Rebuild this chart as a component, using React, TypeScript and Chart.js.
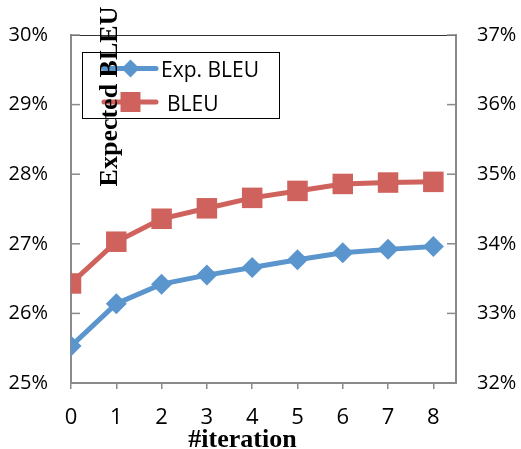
import React, { useEffect, useRef } from "react";
import { Chart, registerables } from "chart.js";

Chart.register(...registerables);

const iterations = [0, 1, 2, 3, 4, 5, 6, 7, 8];
const expBleu = [25.53, 26.14, 26.42, 26.55, 26.66, 26.77, 26.87, 26.92, 26.96];
const bleu = [33.43, 34.03, 34.36, 34.51, 34.66, 34.76, 34.86, 34.88, 34.89];
const leftTicks = [25, 26, 27, 28, 29, 30];
const rightTicks = [32, 33, 34, 35, 36, 37];
const seriesNames = ["Exp. BLEU", "BLEU"];
const xTitle = "#iteration";
const yTitle = "Expected BLEU";

const BLUE = "#5B95CD";
const RED = "#CF625C";
const AXIS = "#8a8a8a";

const decorPlugin = {
  id: "decor",
  afterDraw(chart: any) {
    const { ctx, chartArea: a, scales } = chart;
    ctx.save();
    // top border
    ctx.strokeStyle = "#333";
    ctx.lineWidth = 1;
    ctx.beginPath();
    ctx.moveTo(a.left, a.top + 0.5);
    ctx.lineTo(a.right, a.top + 0.5);
    ctx.stroke();
    // inward tick marks
    ctx.strokeStyle = AXIS;
    ctx.lineWidth = 1.5;
    scales.y.ticks.forEach((t: any) => {
      const p = scales.y.getPixelForValue(t.value);
      ctx.beginPath();
      ctx.moveTo(a.left, p);
      ctx.lineTo(a.left + 9, p);
      ctx.stroke();
    });
    scales.y1.ticks.forEach((t: any) => {
      const p = scales.y1.getPixelForValue(t.value);
      ctx.beginPath();
      ctx.moveTo(a.right - 9, p);
      ctx.lineTo(a.right, p);
      ctx.stroke();
    });

    // legend
    ctx.strokeStyle = "#000";
    ctx.lineWidth = 1;
    ctx.strokeRect(82.5, 52.5, 197, 66);
    const rows = [
      { name: seriesNames[0], color: BLUE, y: 68.5, shape: "diamond", tx: 161 },
      { name: seriesNames[1], color: RED, y: 102, shape: "square", tx: 167 },
    ];
    ctx.font = '21px "Open Sans"';
    ctx.textBaseline = "middle";
    ctx.textAlign = "left";
    rows.forEach((r) => {
      ctx.strokeStyle = r.color;
      ctx.lineWidth = 5;
      ctx.lineCap = "round";
      ctx.beginPath();
      ctx.moveTo(104, r.y);
      ctx.lineTo(156, r.y);
      ctx.stroke();
      ctx.fillStyle = r.color;
      const cx = 130.5;
      ctx.beginPath();
      if (r.shape === "diamond") {
        ctx.moveTo(cx, r.y - 9);
        ctx.lineTo(cx + 9, r.y);
        ctx.lineTo(cx, r.y + 9);
        ctx.lineTo(cx - 9, r.y);
      } else {
        ctx.rect(cx - 10, r.y - 10, 20, 20);
      }
      ctx.closePath();
      ctx.fill();
      ctx.fillStyle = "#000";
      ctx.fillText(r.name, r.tx, r.y + 3);
    });

    // titles
    ctx.fillStyle = "#000";
    ctx.font = 'bold 26px "Liberation Serif"';
    ctx.textAlign = "center";
    ctx.textBaseline = "alphabetic";
    ctx.fillText(xTitle, 242.5, 447);
    ctx.save();
    ctx.translate(116.5, 96.5);
    ctx.rotate(-Math.PI / 2);
    ctx.fillText(yTitle, 0, 0);
    ctx.restore();
    ctx.restore();
  },
};

export default function App() {
  const ref = useRef<HTMLCanvasElement | null>(null);
  useEffect(() => {
    document.body.style.margin = "0";
    const canvas = ref.current;
    if (!canvas) return;
    const chart = new Chart(canvas, {
      type: "line",
      data: {
        datasets: [
          {
            label: seriesNames[0],
            data: iterations.map((x, i) => ({ x, y: expBleu[i] })),
            yAxisID: "y",
            borderColor: BLUE,
            backgroundColor: BLUE,
            borderWidth: 5,
            pointStyle: "rectRot",
            pointRadius: 10.5,
            pointBorderWidth: 0,
            pointBackgroundColor: BLUE,
            tension: 0,
          },
          {
            label: seriesNames[1],
            data: iterations.map((x, i) => ({ x, y: bleu[i] })),
            yAxisID: "y1",
            borderColor: RED,
            backgroundColor: RED,
            borderWidth: 5,
            pointStyle: "rect",
            pointRadius: 14.5,
            pointBorderWidth: 0,
            pointBackgroundColor: RED,
            tension: 0,
          },
        ],
      },
      options: {
        responsive: false,
        animation: false,
        devicePixelRatio: 1,
        layout: { padding: { top: 30, left: 0, right: 0, bottom: 0 } },
        plugins: { legend: { display: false }, tooltip: { enabled: false } },
        scales: {
          x: {
            type: "linear",
            min: iterations[0],
            max: iterations[iterations.length - 1] + 0.5,
            afterBuildTicks: (s: any) => {
              s.ticks = iterations.map((v) => ({ value: v }));
            },
            afterFit: (s: any) => {
              s.height = 66;
            },
            grid: {
              drawOnChartArea: false,
              drawTicks: true,
              tickLength: 6,
              color: AXIS,
              lineWidth: 1.5,
            },
            border: { display: true, color: AXIS, width: 2 },
            ticks: {
              color: "#000",
              font: { family: '"Open Sans"', size: 22 },
              padding: 16,
              maxRotation: 0,
              autoSkip: false,
              callback: (v: any) => String(v),
            },
          },
          y: {
            position: "left",
            min: leftTicks[0],
            max: leftTicks[leftTicks.length - 1],
            afterBuildTicks: (s: any) => {
              s.ticks = leftTicks.map((v) => ({ value: v }));
            },
            afterFit: (s: any) => {
              s.width = 71;
            },
            grid: { display: false, drawTicks: false },
            border: { display: true, color: AXIS, width: 2 },
            ticks: {
              color: "#000",
              font: { family: '"Open Sans"', size: 20 },
              padding: 23,
              labelOffset: 0,
              callback: (v: any) => v + "%",
            },
          },
          y1: {
            position: "right",
            min: rightTicks[0],
            max: rightTicks[rightTicks.length - 1],
            afterBuildTicks: (s: any) => {
              s.ticks = rightTicks.map((v) => ({ value: v }));
            },
            afterFit: (s: any) => {
              s.width = 65;
            },
            grid: { display: false, drawTicks: false },
            border: { display: true, color: AXIS, width: 2 },
            ticks: {
              color: "#000",
              font: { family: '"Open Sans"', size: 20 },
              padding: 21,
              labelOffset: 0,
              callback: (v: any) => v + "%",
            },
          },
        },
      },
      plugins: [decorPlugin],
    } as any);
    return () => chart.destroy();
  }, []);
  return (
    <div style={{ position: "absolute", left: 0, top: 0, width: 521, height: 449, background: "#fff" }}>
      <canvas ref={ref} width={521} height={449} style={{ display: "block", width: 521, height: 449 }} />
    </div>
  );
}
